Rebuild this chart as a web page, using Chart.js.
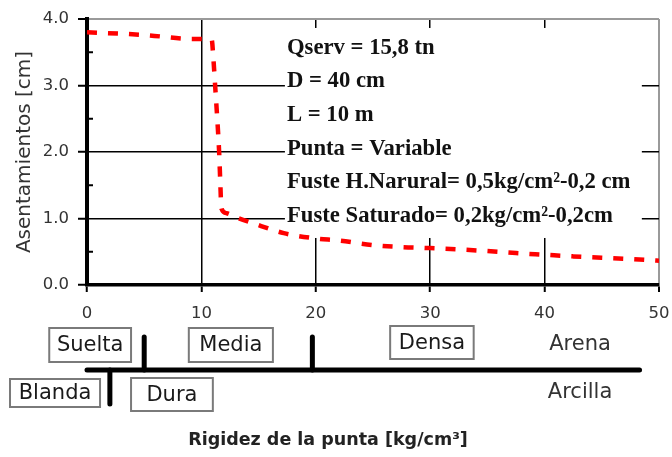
<!DOCTYPE html>
<html><head><meta charset="utf-8">
<style>html,body{margin:0;padding:0;background:#fff;overflow:hidden;}#wrap{width:672px;height:457px;}</style>
<script src="https://cdn.jsdelivr.net/npm/chart.js@4.4.1/dist/chart.umd.min.js"></script>
</head><body><div id="wrap"><canvas id="c" width="672" height="457"></canvas></div>
<script>
// ---- data ----
const rigidez = [0, 5, 9.3, 10.9, 11.05, 11.2, 11.35, 11.55, 11.65, 11.75, 12.2, 13, 14.5, 17.2, 20, 22, 25, 27.5, 30, 32.5, 35, 37.5, 40, 42.5, 45, 47.5, 50];
const asentamiento = [3.80, 3.76, 3.70, 3.69, 3.40, 3.00, 2.60, 2.00, 1.55, 1.15, 1.08, 1.02, 0.93, 0.78, 0.70, 0.67, 0.60, 0.57, 0.555, 0.535, 0.51, 0.48, 0.455, 0.43, 0.41, 0.39, 0.365];
const xTicks = [0, 10, 20, 30, 40, 50];
const yTicks = [0, 1, 2, 3, 4];
const yMinorTicks = [0.5, 1.5, 2.5, 3.5];
const infoLines = ['Qserv = 15,8 tn', 'D = 40 cm', 'L = 10 m', 'Punta = Variable', 'Fuste H.Narural= 0,5kg/cm\u00B2-0,2 cm', 'Fuste Saturado= 0,2kg/cm\u00B2-0,2cm'];
const sandClasses = ['Suelta', 'Media', 'Densa'];
const clayClasses = ['Blanda', 'Dura'];
const sandLimits = [5, 19.7];
const clayLimits = [2];
const soilNames = ['Arena', 'Arcilla'];
const xTitle = 'Rigidez de la punta [kg/cm\u00B3]';

// ---- layout (positions in x-scale units / pixels) ----
const infoBox = {x1: 17.3, x2: 48.5, y1: 3.865, y2: 0.707};
const sandBoxes = [{x1: -3.3, x2: 3.85, top: 328, bottom: 362}, {x1: 8.9, x2: 16.25, top: 328, bottom: 362}, {x1: 26.5, x2: 33.8, top: 326, bottom: 359}];
const clayBoxes = [{x1: -6.73, x2: 1.14, top: 379, bottom: 407}, {x1: 3.85, x2: 11.0, top: 378, bottom: 411}];
const soilLabelX = 43.1;
const soilLabelY = [345, 393];
const dividerY = 370, dividerX2 = 48.3;
const xTitlePos = {x: 328, y: 440};

const decor = {
  id: 'decor',
  beforeDatasetsDraw(chart) {
    const {ctx, scales: {x, y}} = chart;
    ctx.save();
    ctx.strokeStyle = '#000'; ctx.lineWidth = 2;
    yMinorTicks.forEach(v => {
      const py = y.getPixelForValue(v);
      ctx.beginPath(); ctx.moveTo(x.left, py); ctx.lineTo(x.left + 6, py); ctx.stroke();
    });
    const bx1 = x.getPixelForValue(infoBox.x1), bx2 = x.getPixelForValue(infoBox.x2);
    const by1 = y.getPixelForValue(infoBox.y1), by2 = y.getPixelForValue(infoBox.y2);
    ctx.fillStyle = '#fff';
    ctx.fillRect(bx1, by1, bx2 - bx1, by2 - by1);
    ctx.fillStyle = '#111';
    ctx.font = 'bold 22.7px "Liberation Serif"';
    ctx.textBaseline = 'middle'; ctx.textAlign = 'left';
    infoLines.forEach((t, i) => ctx.fillText(t, bx1 + 2, by1 + 20 + i * 33.6));
    ctx.restore();
  },
  afterDraw(chart) {
    const {ctx, scales: {x}} = chart;
    ctx.save();
    ctx.font = '21px "DejaVu Sans"';
    ctx.textAlign = 'center'; ctx.textBaseline = 'middle';
    const drawBox = (label, b) => {
      const p1 = x.getPixelForValue(b.x1), p2 = x.getPixelForValue(b.x2);
      ctx.strokeStyle = '#7a7a7a'; ctx.lineWidth = 2;
      ctx.strokeRect(p1, b.top, p2 - p1, b.bottom - b.top);
      ctx.fillStyle = '#1a1a1a';
      ctx.fillText(label, (p1 + p2) / 2, (b.top + b.bottom) / 2 + 1);
    };
    sandClasses.forEach((l, i) => drawBox(l, sandBoxes[i]));
    clayClasses.forEach((l, i) => drawBox(l, clayBoxes[i]));
    ctx.fillStyle = '#333';
    soilNames.forEach((l, i) => ctx.fillText(l, x.getPixelForValue(soilLabelX), soilLabelY[i]));
    ctx.strokeStyle = '#000'; ctx.lineWidth = 5; ctx.lineCap = 'round';
    ctx.beginPath(); ctx.moveTo(x.getPixelForValue(0), dividerY); ctx.lineTo(x.getPixelForValue(dividerX2), dividerY); ctx.stroke();
    sandLimits.forEach(v => { const px = x.getPixelForValue(v); ctx.beginPath(); ctx.moveTo(px, 337); ctx.lineTo(px, dividerY); ctx.stroke(); });
    clayLimits.forEach(v => { const px = x.getPixelForValue(v); ctx.beginPath(); ctx.moveTo(px, dividerY); ctx.lineTo(px, 404); ctx.stroke(); });
    ctx.fillStyle = '#222';
    ctx.font = 'bold 17.5px "DejaVu Sans"';
    ctx.fillText(xTitle, xTitlePos.x, xTitlePos.y);
    ctx.restore();
  }
};

new Chart(document.getElementById('c'), {
  type: 'line',
  data: {
    datasets: [{
      data: rigidez.map((v, i) => ({x: v, y: asentamiento[i]})),
      borderColor: '#ff0000', borderWidth: 4.5, borderDash: [10, 11],
      pointRadius: 0, fill: false, cubicInterpolationMode: 'monotone'
    }]
  },
  options: {
    responsive: false, animation: false, devicePixelRatio: 1,
    layout: {padding: {top: 19, right: 13, bottom: 0, left: 0}},
    plugins: {legend: {display: false}, tooltip: {enabled: false}},
    scales: {
      x: {
        type: 'linear', min: 0, max: 50,
        afterBuildTicks: s => { s.ticks = xTicks.map(v => ({value: v})); },
        ticks: {font: {family: 'DejaVu Sans', size: 16.5}, color: '#333', padding: 12, maxRotation: 0, autoSkip: false, callback: v => String(v)},
        grid: {
          color: c => (c.tick && c.tick.value === 50) ? '#9a9a9a' : '#000',
          lineWidth: c => (c.tick && c.tick.value === 50) ? 2 : 1.5,
          tickLength: 7, tickColor: '#000', tickWidth: 2
        },
        border: {color: '#000', width: 3.5},
        title: {display: false},
        afterFit: s => { s.height = 172; s.paddingLeft = 0; s.paddingRight = 0; }
      },
      y: {
        type: 'linear', min: 0, max: 4,
        afterBuildTicks: s => { s.ticks = yTicks.map(v => ({value: v})); },
        ticks: {font: {family: 'DejaVu Sans', size: 16.5}, color: '#333', padding: 9, callback: v => Number(v).toFixed(1)},
        grid: {
          color: c => (c.tick && c.tick.value === 4) ? '#9a9a9a' : '#000',
          lineWidth: c => (c.tick && c.tick.value === 4) ? 2 : 1.5,
          tickLength: 9, tickColor: '#000', tickWidth: 2
        },
        border: {color: '#000', width: 4},
        title: {display: true, text: 'Asentamientos [cm]', font: {family: 'DejaVu Sans', size: 20}, color: '#333', padding: {top: 13, bottom: 0}},
        afterFit: s => { s.width = 87; s.paddingTop = 0; s.paddingBottom = 0; }
      }
    }
  },
  plugins: [decor]
});
</script>
</body></html>
